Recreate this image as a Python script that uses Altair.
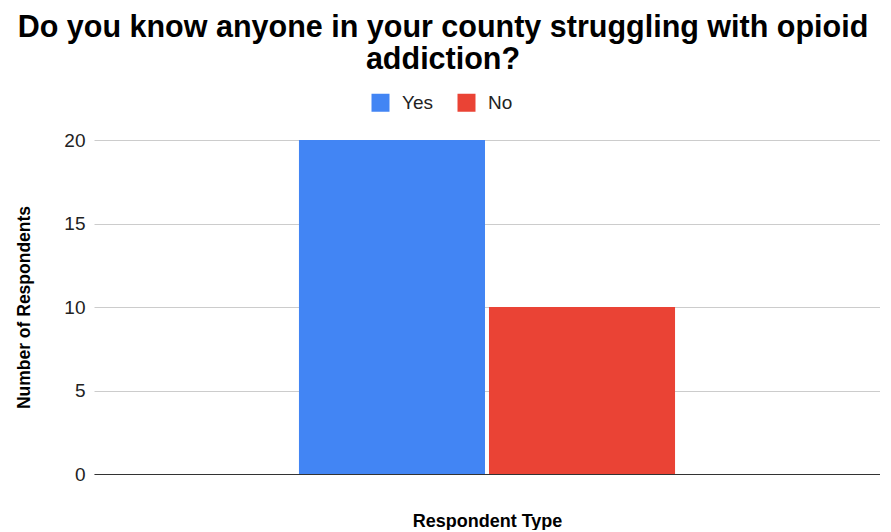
import altair as alt
import pandas as pd

responses = ["Yes", "No"]
counts = [20, 10]
group = ["", ""]
colors = ["#4285F4", "#EA4335"]
y_ticks = [0, 5, 10, 15, 20]

df = pd.DataFrame({"Group": group, "Response": responses, "Count": counts})

FONT = "Liberation Sans"

chart = alt.Chart(df).mark_bar().encode(
    x=alt.X("Group:N",
            scale=alt.Scale(paddingOuter=0.545, paddingInner=0),
            axis=alt.Axis(labels=False, ticks=False, title="Respondent Type",
                          domainColor="#333333", domainWidth=1.2,
                          titlePadding=38, titleFontSize=18, titleFont=FONT,
                          titleFontWeight="bold", titleColor="#000000")),
    xOffset=alt.XOffset("Response:N", sort=responses,
                        scale=alt.Scale(paddingInner=0.021)),
    y=alt.Y("Count:Q",
            scale=alt.Scale(domain=[0, 20]),
            axis=alt.Axis(values=y_ticks, title="Number of Respondents",
                          domain=False, ticks=False, labelPadding=9,
                          labelFontSize=19, labelFont=FONT, labelColor="#222222",
                          gridColor="#cccccc", titleFontSize=17.5, titleFont=FONT,
                          titleFontWeight="bold", titleColor="#000000",
                          titlePadding=30)),
    color=alt.Color("Response:N", sort=responses,
                    scale=alt.Scale(domain=responses, range=colors),
                    legend=alt.Legend(orient="none", direction="horizontal",
                                      legendX=277, legendY=-47, title=None,
                                      symbolType="square", symbolSize=324,
                                      symbolStrokeWidth=0, symbolOpacity=1,
                                      labelFontSize=19, labelFont=FONT,
                                      labelColor="#222222", labelOffset=12,
                                      columnPadding=24)),
).properties(
    width=786,
    height=334,
    title=alt.TitleParams(
        ["Do you know anyone in your county struggling with opioid", "addiction?"],
        fontSize=30.5, font=FONT, fontWeight="bold", color="#000000",
        anchor="middle", frame="group", dx=-44, lineHeight=32, offset=18),
    padding={"left": 7, "top": 4, "right": 0, "bottom": 0},
).configure_view(stroke=None).configure_axis(labelFont=FONT)

chart.save("out.html", embed_options={"renderer": "svg", "actions": False})
